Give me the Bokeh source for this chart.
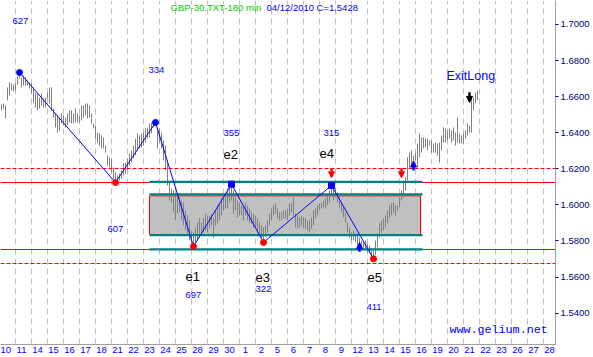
from bokeh.plotting import figure
from bokeh.models import Range1d, FixedTicker, NumeralTickFormatter, ColumnDataSource, Arrow, NormalHead
from bokeh.core.properties import value
from bokeh.embed import file_html
from bokeh.resources import INLINE

# ---------------- data ----------------
day_labels = ["10", "11", "14", "15", "16", "17", "18", "21", "22", "23", "24", "25",
              "28", "29", "30", "1", "2", "5", "6", "7", "8", "9", "12", "13", "14",
              "15", "16", "19", "20", "21", "22", "23", "26", "27", "28"]

# 180-minute bars, prices in 1/10000 units
high_pips = [
    16557, 16562, 16551, 16651, 16679, 16673, 16667, 16673, 16712, 16745,
    16706, 16717, 16706, 16690, 16679, 16673, 16651, 16623, 16617, 16595,
    16617, 16590, 16595, 16623, 16651, 16651, 16534, 16507, 16496, 16484,
    16507, 16496, 16484, 16507, 16523, 16523, 16507, 16534, 16507, 16496,
    16551, 16551, 16562, 16562, 16551, 16507, 16451, 16440, 16401, 16396,
    16385, 16374, 16329, 16274, 16263, 16257, 16207, 16180, 16163, 16174,
    16191, 16230, 16235, 16257, 16285, 16302, 16329, 16368, 16396, 16385,
    16396, 16401, 16424, 16429, 16451, 16457, 16468, 16468, 16429, 16424,
    16401, 16357, 16329, 16246, 16135, 16091, 16080, 16063, 16052, 16041,
    16024, 16013, 15969, 15941, 15914, 15858, 15847, 15875, 15902, 15925,
    15902, 15925, 15952, 15941, 15941, 15952, 15930, 15969, 15997, 16008,
    16036, 16041, 16063, 16091, 16108, 16119, 16080, 16041, 16024, 16013,
    15997, 15986, 16013, 15997, 15980, 15958, 15952, 15941, 15925, 15902,
    15886, 15875, 15886, 15914, 15952, 15980, 15997, 16008, 15980, 15958,
    15958, 15969, 15969, 15980, 16008, 16008, 16041, 15952, 15941, 15930,
    15941, 15930, 15925, 15914, 15914, 15930, 15969, 15980, 15997, 16008,
    16013, 16024, 16036, 16052, 16080, 16108, 16091, 16096, 16069, 16041,
    16013, 15986, 15958, 15902, 15875, 15847, 15858, 15841, 15841, 15819,
    15803, 15792, 15803, 15786, 15775, 15758, 15747, 15803, 15841, 15897,
    15914, 15925, 15941, 15969, 15997, 16008, 16013, 15997, 15997, 16041,
    16080, 16124, 16152, 16263, 16290, 16302, 16274, 16290, 16340, 16396,
    16374, 16374, 16368, 16368, 16357, 16357, 16340, 16346, 16340, 16346,
    16385, 16429, 16424, 16412, 16424, 16412, 16429, 16401, 16484, 16396,
    16385, 16396, 16412, 16451, 16440, 16590, 16595, 16623, 16634]

low_pips = [
    16523, 16534, 16479, 16579, 16606, 16634, 16629, 16634, 16667, 16701,
    16651, 16662, 16662, 16662, 16645, 16617, 16568, 16540, 16523, 16534,
    16551, 16540, 16540, 16590, 16562, 16523, 16484, 16429, 16401, 16412,
    16451, 16440, 16429, 16440, 16457, 16451, 16451, 16457, 16457, 16457,
    16468, 16484, 16496, 16479, 16484, 16451, 16424, 16368, 16346, 16329,
    16313, 16313, 16290, 16218, 16207, 16180, 16146, 16124, 16135, 16135,
    16146, 16163, 16174, 16191, 16218, 16235, 16257, 16274, 16302, 16313,
    16318, 16329, 16346, 16368, 16374, 16396, 16429, 16440, 16313, 16346,
    16313, 16246, 16191, 16108, 16024, 16013, 15958, 15914, 15952, 15958,
    15914, 15886, 15858, 15841, 15803, 15775, 15775, 15792, 15803, 15819,
    15841, 15847, 15858, 15847, 15869, 15886, 15819, 15886, 15897, 15914,
    15941, 15969, 15980, 15980, 16013, 16024, 15952, 15969, 15930, 15941,
    15941, 15914, 15941, 15914, 15902, 15897, 15875, 15875, 15847, 15830,
    15814, 15797, 15825, 15847, 15886, 15914, 15941, 15952, 15925, 15914,
    15914, 15925, 15925, 15914, 15941, 15958, 15941, 15875, 15869, 15875,
    15886, 15869, 15869, 15858, 15847, 15869, 15886, 15925, 15941, 15969,
    15980, 15986, 15980, 15997, 16013, 16047, 16024, 16041, 16013, 15986,
    15958, 15930, 15902, 15847, 15819, 15803, 15803, 15792, 15775, 15764,
    15747, 15758, 15747, 15736, 15731, 15708, 15703, 15720, 15764, 15819,
    15847, 15858, 15875, 15897, 15925, 15941, 15958, 15941, 15969, 15986,
    16024, 16041, 16080, 16135, 16207, 16218, 16235, 16246, 16207, 16263,
    16290, 16313, 16318, 16302, 16329, 16290, 16290, 16290, 16274, 16235,
    16302, 16346, 16346, 16357, 16368, 16346, 16357, 16329, 16346, 16340,
    16340, 16340, 16368, 16385, 16401, 16401, 16523, 16562, 16579]

# zigzag pivots (bar index, price)
zz_bar = [9, 57, 77, 96, 115, 131, 165, 186]
zz_price = [1.6734, 1.6124, 1.6457, 1.5770, 1.6115, 1.5792, 1.6108, 1.5701]
zz_kind = ["hi_dot", "lo", "hi_dot", "lo", "hi_sq", "lo", "hi_sq", "lo"]

# horizontal levels
dashed_levels = [1.6200, 1.5674]
solid_levels = [1.6123, 1.5753]
channel_levels = [1.6128, 1.6058, 1.5832, 1.5754]
channel_bars = [74.0, 210.5]
box_bars = [74.0, 209.5]
box_prices = [1.5836, 1.6050]

# signal arrows: bar, tail price, tip price
red_arrow_bar = [165, 200]
red_arrow_from = [1.6203, 1.6203]
red_arrow_to = [1.6150, 1.6150]
blue_arrow_bar = [206, 179]
blue_arrow_from = [1.6190, 1.5740]
blue_arrow_to = [1.6243, 1.5791]
black_arrow_bar = [234]
black_arrow_from = [1.6625]
black_arrow_to = [1.6568]

# annotations
num_text = ["627", "334", "355", "315", "607", "697", "322", "411"]
num_bar = [5.5, 73.5, 111.0, 161.0, 53.0, 92.0, 127.0, 182.5]
num_price = [1.7018, 1.6745, 1.6401, 1.6397, 1.5864, 1.5503, 1.5534, 1.5433]
e_text = ["e1", "e2", "e3", "e4", "e5"]
e_bar = [92.0, 111.0, 127.0, 159.0, 183.0]
e_price = [1.5603, 1.6282, 1.5595, 1.6285, 1.5595]

y_ticks = [1.54, 1.56, 1.58, 1.60, 1.62, 1.64, 1.66, 1.68, 1.70]

# ---------------- figure ----------------
FONT = "Liberation Sans"
p = figure(width=593, height=357, output_backend="svg", toolbar_location=None,
           x_range=Range1d(-0.5, 277.0), y_range=Range1d(1.52262, 1.71330),
           y_axis_location="right", min_border_left=0, min_border_top=0,
           min_border_right=38, min_border_bottom=13)
p.outline_line_color = None
p.background_fill_color = "white"
p.border_fill_color = "white"

# grid
p.xgrid.ticker = FixedTicker(ticks=[8 * k - 1 for k in range(len(day_labels) + 1)])
p.xgrid.grid_line_color = "#c0c0c0"
p.xgrid.grid_line_dash = "6 4"
p.ygrid.visible = False

# x axis
tick_pos = [8 * k + 2 for k in range(len(day_labels))]
ax = p.xaxis[0]
ax.ticker = FixedTicker(ticks=tick_pos)
ax.major_label_overrides = {t: lab for t, lab in zip(tick_pos, day_labels)}
ax.axis_line_color = "#a0a0a0"
ax.major_tick_line_color = None
ax.minor_tick_line_color = None
ax.major_tick_out = 0
ax.major_tick_in = 0
ax.major_label_standoff = 2
ax.major_label_text_color = "#0000ff"
ax.major_label_text_font = FONT
ax.major_label_text_font_size = "9.5px"

# y axis
ay = p.yaxis[0]
ay.ticker = FixedTicker(ticks=y_ticks)
ay.formatter = NumeralTickFormatter(format="0.0000")
ay.axis_line_color = "#a0a0a0"
ay.major_tick_line_color = "#000080"
ay.major_tick_out = 3
ay.major_tick_in = 0
ay.minor_tick_line_color = None
ay.major_label_standoff = 2
ay.major_label_text_color = "#000080"
ay.major_label_text_font = FONT
ay.major_label_text_font_size = "9.5px"

# channel box
p.quad(left=[box_bars[0]], right=[box_bars[1]], bottom=[box_prices[0]], top=[box_prices[1]],
       fill_color="#c0c0c0", line_color="#ff0000", line_width=1)

# price bars
bars = ColumnDataSource(dict(x=list(range(len(high_pips))),
                             hi=[h / 10000 for h in high_pips],
                             lo=[l / 10000 for l in low_pips]))
p.segment(x0="x", y0="lo", x1="x", y1="hi", source=bars, line_color="#808080", line_width=1)

# levels
p.hspan(y=dashed_levels, line_color="#ff0000", line_dash="4 2", line_width=1)
p.hspan(y=solid_levels, line_color="#ff0000", line_width=1)
p.segment(x0=[channel_bars[0]] * len(channel_levels), x1=[channel_bars[1]] * len(channel_levels),
          y0=channel_levels, y1=channel_levels, line_color="#008080", line_width=2.2)

# zigzag
p.line(zz_bar, zz_price, line_color="#0000ff", line_width=1)
for kind, marker, col in [("hi_dot", "circle", "#0000ff"), ("hi_sq", "square", "#0000ff"),
                          ("lo", "circle", "#ff0000")]:
    xs = [b for b, k in zip(zz_bar, zz_kind) if k == kind]
    ys = [v for v, k in zip(zz_price, zz_kind) if k == kind]
    p.scatter(xs, ys, marker=marker, size=6, fill_color=col, line_color=col)

# arrows
for xb, y0, y1, col in [(red_arrow_bar, red_arrow_from, red_arrow_to, "#ff0000"),
                        (blue_arrow_bar, blue_arrow_from, blue_arrow_to, "#0000ff"),
                        (black_arrow_bar, black_arrow_from, black_arrow_to, "#000000")]:
    src = ColumnDataSource(dict(x=xb, y0=y0, y1=y1))
    p.add_layout(Arrow(end=NormalHead(size=6, fill_color=col, line_color=col, line_width=1),
                       x_start="x", y_start="y0", x_end="x", y_end="y1",
                       line_color=col, line_width=2.5, source=src))

# texts
p.text(x=num_bar, y=num_price, text=num_text, text_font=value(FONT), text_font_size="9.5px",
       text_color="#0000ff", text_baseline="middle", text_align="left")
p.text(x=e_bar, y=e_price, text=e_text, text_font=value(FONT), text_font_size="13px",
       text_color="#000000", text_baseline="middle", text_align="left")
p.text(x=[222.5], y=[1.6713], text=["ExitLong"], text_font=value(FONT), text_font_size="12.5px",
       text_color="#0000ff", text_baseline="middle", text_align="left")
p.text(x=[84.5], y=[1.7096], text=["GBP-30.TXT-180 min"], text_font=value(FONT),
       text_font_size="9.5px", text_color="#00cc00", text_baseline="middle", text_align="left")
p.text(x=[132.5, 157.5], y=[1.7096, 1.7096], text=["04/12/2010", "C=1.5428"], text_font=value(FONT),
       text_font_size="9.5px", text_color="#0000ff", text_baseline="middle", text_align="left")
p.text(x=[224.0], y=[1.5309], text=["www.gelium.net"], text_font=value("Liberation Mono"),
       text_font_size="11.7px", text_color="#0000ff", text_baseline="middle", text_align="left")

open("out.html", "w").write(file_html(p, INLINE))
